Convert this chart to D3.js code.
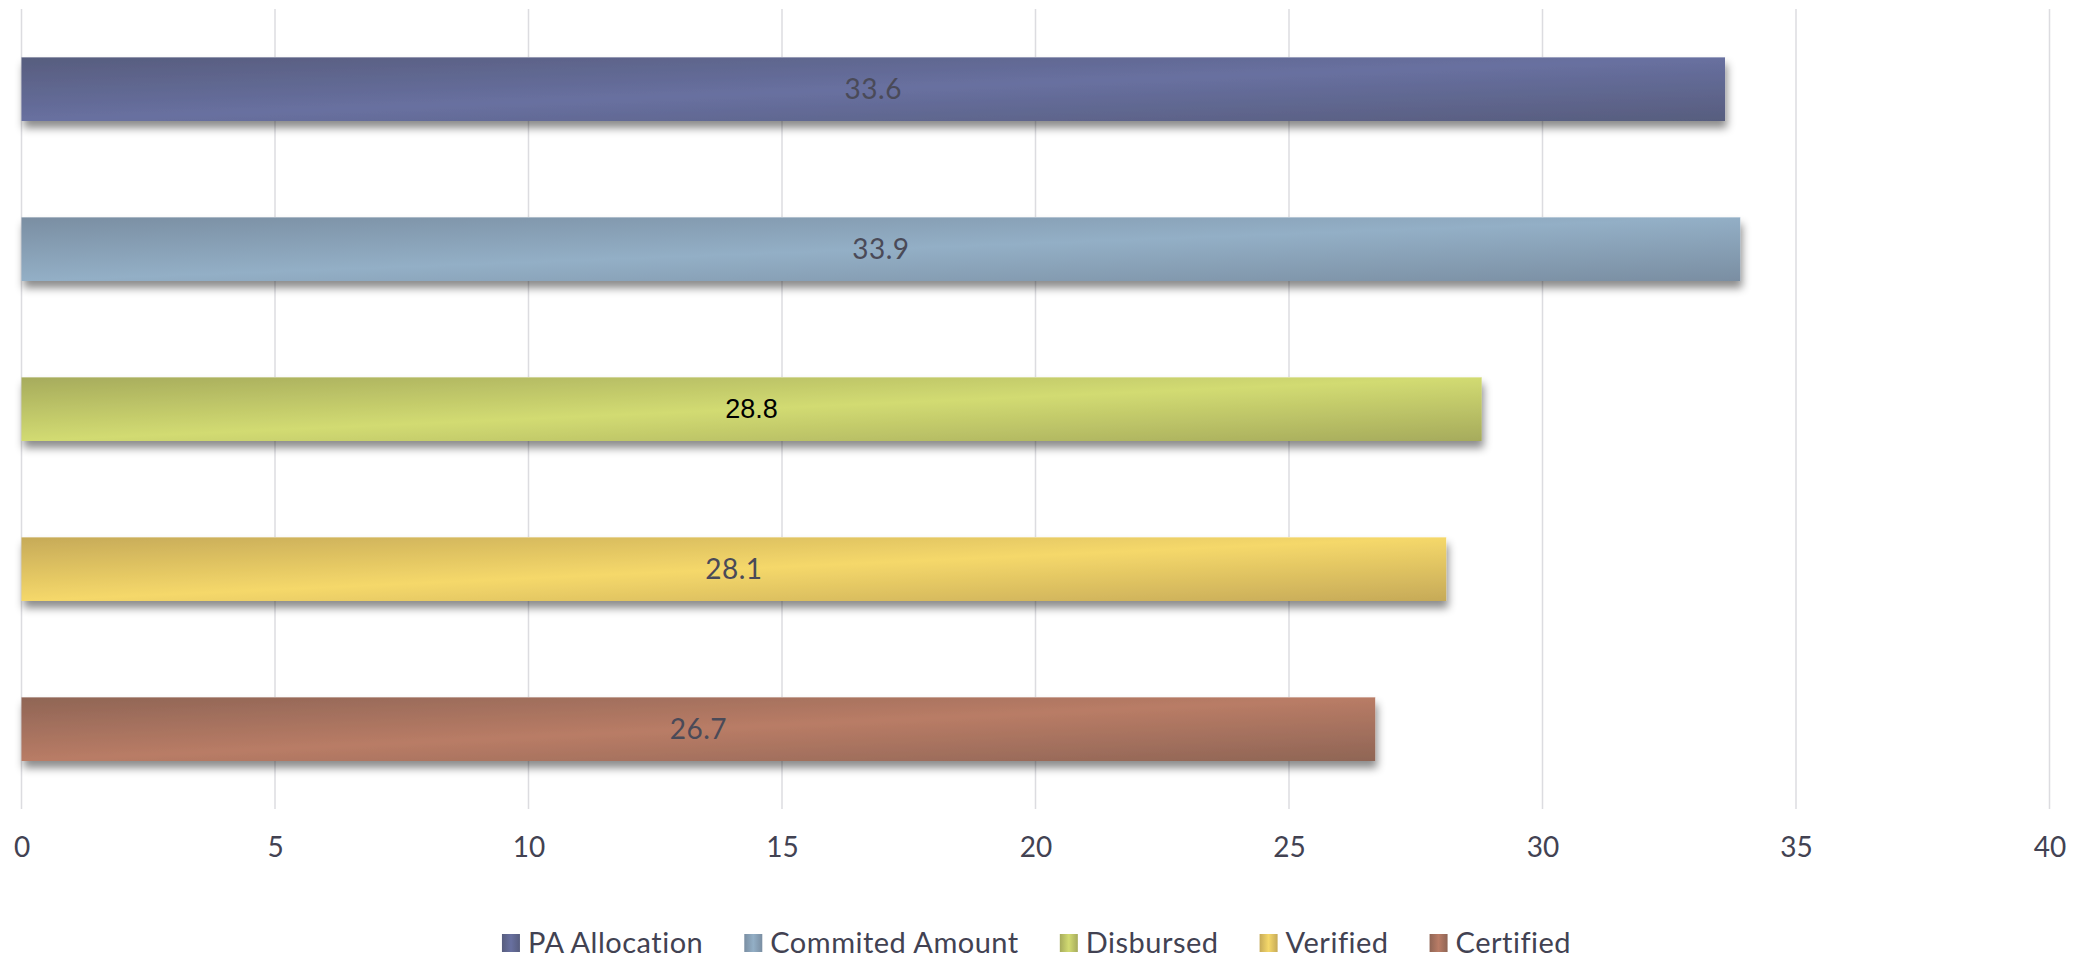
<!DOCTYPE html>
<html>
<head>
<meta charset="utf-8">
<script src="https://cdn.jsdelivr.net/npm/d3@7"></script>
<style>
  html, body { margin: 0; padding: 0; background: #ffffff; }
  svg { display: block; }
</style>
</head>
<body>
<svg id="chart" width="2079" height="960"></svg>
<script>
// ---- data ----
const categories = ["PA Allocation", "Commited Amount", "Disbursed", "Verified", "Certified"];
const values = [33.6, 33.9, 28.8, 28.1, 26.7];
const valueLabels = ["33.6", "33.9", "28.8", "28.1", "26.7"];
const xTicks = [0, 5, 10, 15, 20, 25, 30, 35, 40];

// ---- styles (not data) ----
const palette = {
  "PA Allocation":   { edge: "#575d7e", mid: "#6870a0" },
  "Commited Amount": { edge: "#7a8ea2", mid: "#93afc6" },
  "Disbursed":       { edge: "#a6ab5c", mid: "#d2db72" },
  "Verified":        { edge: "#c6aa58", mid: "#f5d86a" },
  "Certified":       { edge: "#8f6555", mid: "#b97c66" }
};
const labelColor = ["#4a4a58", "#4a4a58", "#000000", "#4a4a58", "#4a4a58"];
const labelFont = ["Lato", "Lato", "Liberation Sans", "Lato", "Lato"];

const svg = d3.select("#chart");
const W = 2079, H = 960;

const x = d3.scaleLinear().domain([0, 40]).range([21.5, 2049.5]);
const y = d3.scaleBand().domain(categories).range([9, 809]).paddingInner(0.6).paddingOuter(0.3);

const defs = svg.append("defs");
const shadow = defs.append("filter").attr("id", "shadow")
  .attr("x", "-5%").attr("y", "-30%").attr("width", "110%").attr("height", "180%");
shadow.append("feDropShadow").attr("dx", 2).attr("dy", 7).attr("stdDeviation", 4)
  .attr("flood-color", "#000").attr("flood-opacity", 0.45);

categories.forEach((c, i) => {
  const g = defs.append("linearGradient").attr("id", "grad" + i)
    .attr("x1", "0").attr("y1", "0").attr("x2", "1").attr("y2", "1");
  g.append("stop").attr("offset", "0%").attr("stop-color", palette[c].edge);
  g.append("stop").attr("offset", "50%").attr("stop-color", palette[c].mid);
  g.append("stop").attr("offset", "100%").attr("stop-color", palette[c].edge);
  const lg = defs.append("linearGradient").attr("id", "lgrad" + i)
    .attr("x1", "0").attr("y1", "0").attr("x2", "1").attr("y2", "0");
  lg.append("stop").attr("offset", "0%").attr("stop-color", palette[c].edge);
  lg.append("stop").attr("offset", "50%").attr("stop-color", palette[c].mid);
  lg.append("stop").attr("offset", "100%").attr("stop-color", palette[c].edge);
});

// gridlines
svg.append("g").selectAll("line").data(xTicks).join("line")
  .attr("x1", d => x(d)).attr("x2", d => x(d))
  .attr("y1", 9).attr("y2", 809)
  .attr("stroke", "#dcdce0").attr("stroke-width", 1.5);

// bars
const data = categories.map((c, i) => ({ c, v: values[i], i }));
svg.append("g").selectAll("rect").data(data).join("rect")
  .attr("x", x(0))
  .attr("y", d => y(d.c))
  .attr("width", d => x(d.v) - x(0))
  .attr("height", y.bandwidth())
  .attr("fill", d => `url(#grad${d.i})`)
  .attr("filter", "url(#shadow)");

// subtle top highlight
svg.append("g").selectAll("line").data(data).join("line")
  .attr("x1", x(0)).attr("x2", d => x(d.v))
  .attr("y1", d => y(d.c) + 0.5).attr("y2", d => y(d.c) + 0.5)
  .attr("stroke", "#ffffff").attr("stroke-opacity", 0.35).attr("stroke-width", 1);

// value labels
svg.append("g").selectAll("text").data(data).join("text")
  .attr("x", d => (x(0) + x(d.v)) / 2)
  .attr("y", d => y(d.c) + y.bandwidth() / 2)
  .attr("dy", "0.35em")
  .attr("text-anchor", "middle")
  .attr("font-family", d => labelFont[d.i])
  .attr("font-size", d => d.i === 2 ? 27 : 28)
  .attr("letter-spacing", d => d.i === 2 ? 0 : 0.5)
  .attr("fill", d => labelColor[d.i])
  .text(d => valueLabels[d.i]);

// x axis
const xAxis = d3.axisBottom(x).tickValues(xTicks).tickSize(0).tickPadding(0).tickFormat(d3.format("d"));
const ax = svg.append("g").attr("transform", "translate(0,847)").call(xAxis);
ax.select(".domain").remove();
ax.selectAll("text")
  .attr("y", 0).attr("dy", "0.35em")
  .attr("font-family", "Lato").attr("font-size", 28).attr("fill", "#424252");

// legend
const legend = svg.append("g").attr("class", "legend");
const items = legend.selectAll("g").data(categories).join("g");
items.append("rect")
  .attr("width", 18).attr("height", 18)
  .attr("y", 934)
  .attr("fill", (d, i) => `url(#lgrad${i})`);
items.append("text")
  .attr("x", 26).attr("y", 943).attr("dy", "0.35em")
  .attr("font-family", "Lato").attr("font-size", 29).attr("letter-spacing", 0.5)
  .attr("fill", "#424252")
  .text(d => d);
// layout legend horizontally, centered
let offs = [], cur = 0;
const gap = 41;
items.each(function() {
  const w = this.getBBox().width;
  offs.push(cur);
  cur += w + gap;
});
const total = cur - gap;
const start = W / 2 - total / 2 - 3;
items.attr("transform", (d, i) => `translate(${start + offs[i]},0)`);
</script>
</body>
</html>
